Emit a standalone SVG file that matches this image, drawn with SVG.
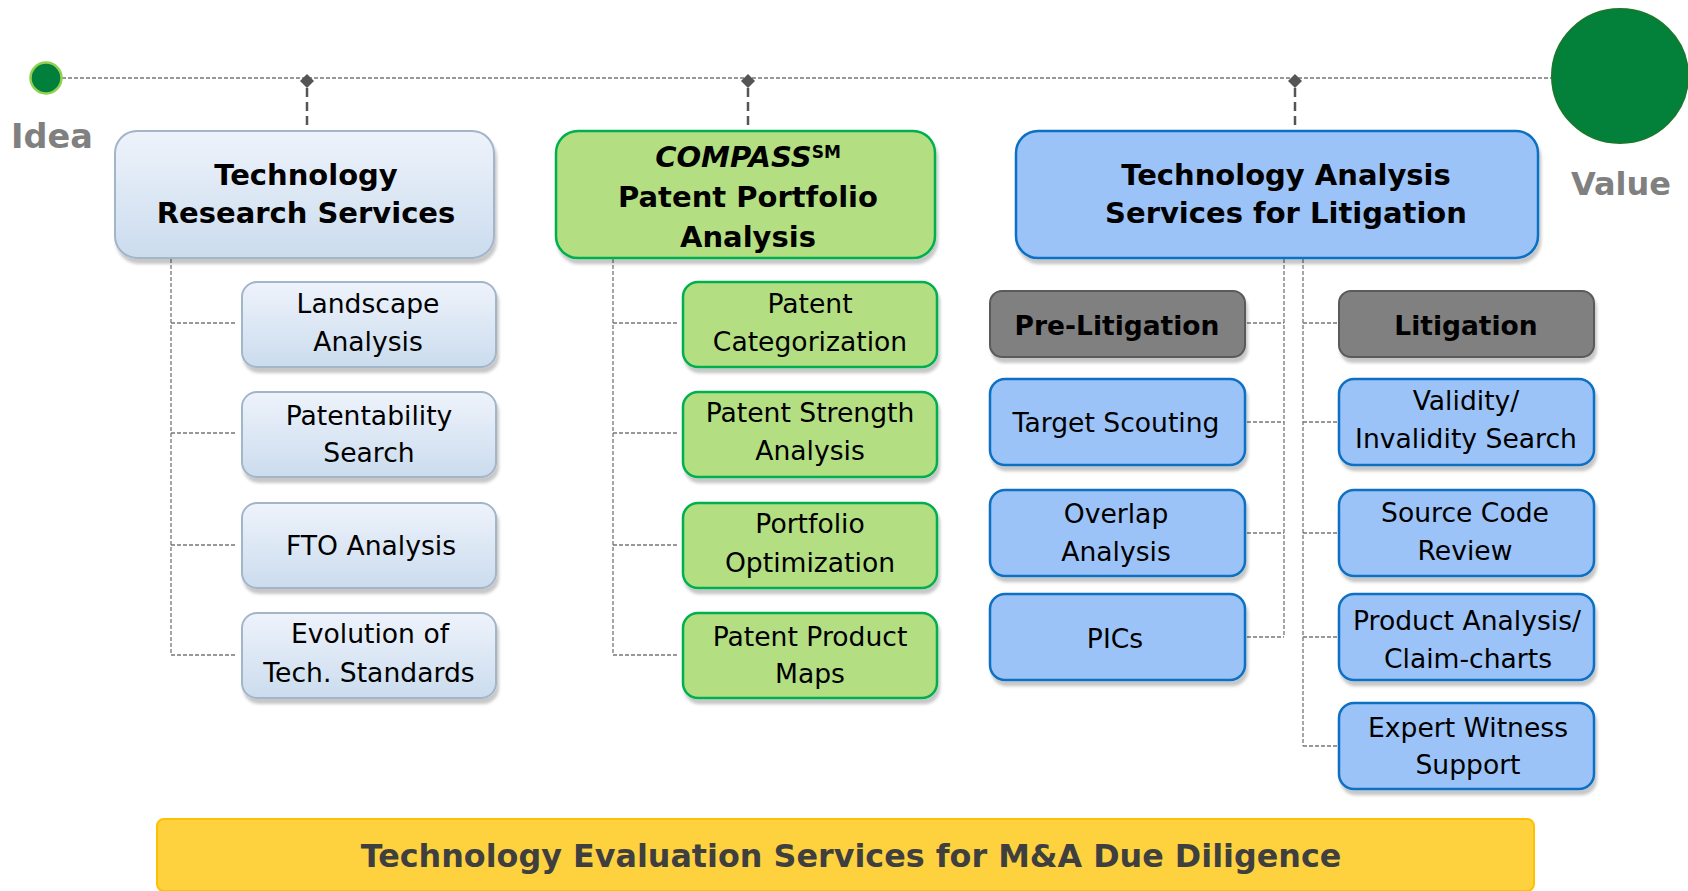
<svg xmlns="http://www.w3.org/2000/svg" width="1688" height="891" viewBox="0 0 1688 891">
<defs>
<linearGradient id="gBlueGray" x1="0" y1="0" x2="0" y2="1">
<stop offset="0" stop-color="#eef3fb"/>
<stop offset="1" stop-color="#cbdcee"/>
</linearGradient>
<filter id="sh" x="-10%" y="-10%" width="120%" height="130%">
<feDropShadow dx="2" dy="5" stdDeviation="1.5" flood-color="#000" flood-opacity="0.22"/>
</filter>
<style>
text{font-family:"DejaVu Sans","Verdana",sans-serif;fill:#000;text-anchor:middle}
.hd{font-size:29px;font-weight:bold}
.sb{font-size:26.6px}
.sbb{font-size:26.5px;font-weight:bold}
.lab{font-size:32px;font-weight:bold;fill:#808080}
.bx1{fill:url(#gBlueGray);stroke:#a2b5c9;stroke-width:2;filter:url(#sh)}
.bx2{fill:#b3de82;stroke:#00b050;stroke-width:2.5;filter:url(#sh)}
.bx3{fill:#9cc3f8;stroke:#0a6fc2;stroke-width:2.5;filter:url(#sh)}
.bxg{fill:#808080;stroke:#5a5a5a;stroke-width:2;filter:url(#sh)}
.thin{fill:none;stroke:#777;stroke-width:1.3;stroke-dasharray:4 2}
.thick{fill:none;stroke:#555;stroke-width:2.5;stroke-dasharray:9 5}
.dia{fill:#555}
</style>
</defs>
<rect width="1688" height="891" fill="#fff"/>

<g id="connectors">
<line class="thin" x1="62" y1="78" x2="1552" y2="78"/>
<path class="thick" d="M307 88V130M748 88V130M1295 88V130"/>
<polygon class="dia" points="307,74 314,81 307,88 300,81"/>
<polygon class="dia" points="748,74 755,81 748,88 741,81"/>
<polygon class="dia" points="1295,74 1302,81 1295,88 1288,81"/>
<path class="thin" d="M171 259V655M171 323H236M171 433H236M171 545H236M171 655H236"/>
<path class="thin" d="M613 259V655M613 323H677M613 433H677M613 545H677M613 655H677"/>
<path class="thin" d="M1284 259V637M1247 323H1284M1247 422H1284M1247 533H1284M1247 637H1284"/>
<path class="thin" d="M1303 259V746M1303 323H1338M1303 422H1338M1303 533H1338M1303 637H1338M1303 746H1338"/>
</g>

<g id="idea">
<circle cx="46" cy="78" r="15.5" fill="#00803a" stroke="#92d050" stroke-width="2.5"/>
<text class="lab" x="52" y="148" style="font-size:33.5px">Idea</text>
</g>
<g id="value">
<ellipse cx="1620" cy="76" rx="68" ry="67" fill="#03803a" stroke="#167a2c" stroke-width="2"/>
<text class="lab" x="1621" y="195">Value</text>
</g>

<g id="tech-research">
<rect class="bx1" x="115" y="131" width="379" height="127" rx="22"/>
<text class="hd" x="306" y="185">Technology</text>
<text class="hd" x="306" y="223">Research Services</text>
</g>
<g id="compass">
<rect class="bx2" x="556" y="131" width="379" height="127" rx="22"/>
<text class="hd" x="748" y="167"><tspan font-style="italic">COMPASS</tspan><tspan font-size="17" dy="-9">SM</tspan></text>
<text class="hd" x="748" y="207">Patent Portfolio</text>
<text class="hd" x="748" y="247">Analysis</text>
</g>
<g id="tech-litigation">
<rect class="bx3" x="1016" y="131" width="522" height="127" rx="22"/>
<text class="hd" x="1286" y="185">Technology Analysis</text>
<text class="hd" x="1286" y="223">Services for Litigation</text>
</g>

<g id="landscape">
<rect class="bx1" x="242" y="282" width="254" height="85" rx="15"/>
<text class="sb" x="368" y="313">Landscape</text>
<text class="sb" x="368" y="351">Analysis</text>
</g>
<g id="patentability">
<rect class="bx1" x="242" y="392" width="254" height="85" rx="15"/>
<text class="sb" x="369" y="425">Patentability</text>
<text class="sb" x="369" y="462">Search</text>
</g>
<g id="fto">
<rect class="bx1" x="242" y="503" width="254" height="85" rx="15"/>
<text class="sb" x="371" y="555">FTO Analysis</text>
</g>
<g id="evolution">
<rect class="bx1" x="242" y="613" width="254" height="85" rx="15"/>
<text class="sb" x="370" y="643">Evolution of</text>
<text class="sb" x="369" y="682">Tech. Standards</text>
</g>

<g id="categorization">
<rect class="bx2" x="683" y="282" width="254" height="85" rx="15"/>
<text class="sb" x="810" y="313">Patent</text>
<text class="sb" x="810" y="351">Categorization</text>
</g>
<g id="strength">
<rect class="bx2" x="683" y="392" width="254" height="85" rx="15"/>
<text class="sb" x="810" y="422">Patent Strength</text>
<text class="sb" x="810" y="460">Analysis</text>
</g>
<g id="optimization">
<rect class="bx2" x="683" y="503" width="254" height="85" rx="15"/>
<text class="sb" x="810" y="533">Portfolio</text>
<text class="sb" x="810" y="572">Optimization</text>
</g>
<g id="product-maps">
<rect class="bx2" x="683" y="613" width="254" height="85" rx="15"/>
<text class="sb" x="810" y="646">Patent Product</text>
<text class="sb" x="810" y="683">Maps</text>
</g>

<g id="pre-litigation">
<rect class="bxg" x="990" y="291" width="255" height="66" rx="12"/>
<text class="sbb" x="1117" y="335">Pre-Litigation</text>
</g>
<g id="target-scouting">
<rect class="bx3" x="990" y="379" width="255" height="86" rx="15"/>
<text class="sb" x="1116" y="432">Target Scouting</text>
</g>
<g id="overlap">
<rect class="bx3" x="990" y="490" width="255" height="86" rx="15"/>
<text class="sb" x="1116" y="523">Overlap</text>
<text class="sb" x="1116" y="561">Analysis</text>
</g>
<g id="pics">
<rect class="bx3" x="990" y="594" width="255" height="86" rx="15"/>
<text class="sb" x="1115" y="648">PICs</text>
</g>

<g id="litigation">
<rect class="bxg" x="1339" y="291" width="255" height="66" rx="12"/>
<text class="sbb" x="1466" y="335">Litigation</text>
</g>
<g id="validity">
<rect class="bx3" x="1339" y="379" width="255" height="86" rx="15"/>
<text class="sb" x="1466" y="410">Validity/</text>
<text class="sb" x="1466" y="448">Invalidity Search</text>
</g>
<g id="source-code">
<rect class="bx3" x="1339" y="490" width="255" height="86" rx="15"/>
<text class="sb" x="1465" y="522">Source Code</text>
<text class="sb" x="1465" y="560">Review</text>
</g>
<g id="product-analysis">
<rect class="bx3" x="1339" y="594" width="255" height="86" rx="15"/>
<text class="sb" x="1467" y="630">Product Analysis/</text>
<text class="sb" x="1468" y="668">Claim-charts</text>
</g>
<g id="expert-witness">
<rect class="bx3" x="1339" y="703" width="255" height="86" rx="15"/>
<text class="sb" x="1468" y="737">Expert Witness</text>
<text class="sb" x="1468" y="774">Support</text>
</g>

<g id="mna">
<rect x="157" y="819" width="1377" height="72" rx="7" fill="#fed23f" stroke="#ffc000" stroke-width="2"/>
<text x="851" y="867" font-size="31.8" font-weight="bold" style="fill:#3f3f3f">Technology Evaluation Services for M&amp;A Due Diligence</text>
</g>
</svg>
